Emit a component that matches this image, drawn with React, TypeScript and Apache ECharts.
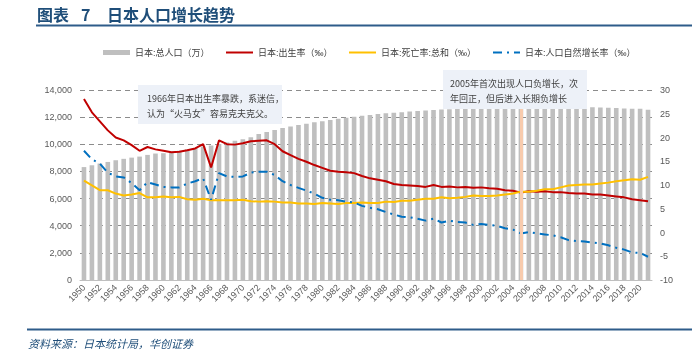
import React, { useEffect, useRef } from "react";
import * as echarts from "echarts";

const years: string[] = [];
for (let y = 1950; y <= 2021; y++) years.push(String(y));

const population = [
  8320, 8454, 8581, 8698, 8824, 8928, 9017, 9093, 9218, 9318,
  9342, 9429, 9518, 9616, 9718, 9828, 9904, 10020, 10133, 10254,
  10372, 10515, 10760, 10910, 11057, 11194, 11309, 11417, 11519, 11616,
  11706, 11790, 11873, 11954, 12031, 12105, 12166, 12224, 12278, 12326,
  12361, 12410, 12457, 12494, 12527, 12557, 12586, 12616, 12649, 12669,
  12693, 12732, 12749, 12769, 12779, 12777, 12790, 12803, 12808, 12803,
  12806, 12783, 12759, 12741, 12724, 12709, 12693, 12671, 12644, 12617,
  12615, 12550,
];

const birthRate = [
  28.1, 25.3, 23.4, 21.5, 20.0, 19.4, 18.4, 17.2, 18.0, 17.5,
  17.2, 16.9, 17.0, 17.3, 17.7, 18.6, 13.7, 19.4, 18.6, 18.5,
  18.8, 19.2, 19.3, 19.4, 18.6, 17.1, 16.3, 15.5, 14.9, 14.2,
  13.6, 13.0, 12.8, 12.7, 12.5, 11.9, 11.4, 11.1, 10.8, 10.2,
  10.0, 9.9, 9.8, 9.6, 10.0, 9.6, 9.7, 9.5, 9.6, 9.4,
  9.5, 9.3, 9.2, 8.9, 8.8, 8.4, 8.7, 8.6, 8.7, 8.5,
  8.5, 8.3, 8.2, 8.2, 8.0, 8.0, 7.8, 7.6, 7.4, 7.0,
  6.8, 6.6,
];

const deathRate = [
  10.9, 9.9, 8.9, 8.9, 8.2, 7.8, 8.0, 8.3, 7.4, 7.4,
  7.6, 7.4, 7.5, 7.0, 6.9, 7.1, 6.8, 6.8, 6.8, 6.8,
  6.9, 6.6, 6.5, 6.6, 6.5, 6.3, 6.3, 6.1, 6.1, 6.0,
  6.2, 6.1, 6.0, 6.2, 6.2, 6.3, 6.2, 6.2, 6.5, 6.4,
  6.7, 6.7, 6.9, 7.1, 7.1, 7.4, 7.2, 7.3, 7.5, 7.8,
  7.7, 7.7, 7.8, 8.0, 8.2, 8.6, 8.6, 8.8, 9.1, 9.1,
  9.5, 9.9, 10.0, 10.1, 10.1, 10.3, 10.5, 10.8, 11.0, 11.2,
  11.1, 11.7,
];

const naturalRate = [
  17.2, 15.4, 14.5, 12.6, 11.8, 11.6, 10.4, 8.9, 10.6, 10.1,
  9.6, 9.5, 9.5, 10.3, 10.8, 11.4, 6.9, 12.5, 11.8, 11.7,
  11.8, 12.6, 12.8, 12.8, 12.1, 10.8, 10.0, 9.4, 8.8, 8.2,
  7.3, 6.9, 6.8, 6.5, 6.3, 5.6, 5.2, 4.9, 4.3, 3.8,
  3.3, 3.2, 2.9, 2.5, 2.9, 2.1, 2.5, 2.2, 2.1, 1.6,
  1.8, 1.6, 1.4, 0.9, 0.6, -0.2, 0.1, -0.2, -0.4, -0.6,
  -1.0, -1.6, -1.8, -1.9, -2.1, -2.3, -2.7, -3.2, -3.6, -4.2,
  -4.3, -5.1,
];

const seriesNames = [
  "日本:总人口（万）",
  "日本:出生率（‰）",
  "日本:死亡率:总和（‰）",
  "日本:人口自然增长率（‰）",
];

const titleParts = ["图表", "7", "日本人口增长趋势"];
const note1966 = ["1966年日本出生率暴跌，系迷信，", "认为“火马女”容易克夫克父。"];
const note2005 = ["2005年首次出现人口负增长，次", "年回正，但后进入长期负增长"];
const sourceText = "资料来源：日本统计局，华创证券";
const markYear = "2005";

const FONT = '"Liberation Sans", Arial, "Noto Sans CJK SC", sans-serif';
const CJK_FONT = '"Noto Sans CJK SC", sans-serif';
const DARKBLUE = "#1F4E79";

export default function App() {
  const ref = useRef<HTMLDivElement>(null);
  useEffect(() => {
    if (!ref.current) return;
    const chart = echarts.init(ref.current, undefined, { renderer: "svg" });
    const noteText = (lines: string[], x: number, y: number) =>
      lines.map((t, i) => ({
        type: "text",
        z: 101,
        x,
        y: y + i * 15,
        style: {
          text: t,
          fontSize: 9,
          fontFamily: CJK_FONT,
          fill: "#404040",
          verticalAlign: "middle",
        },
      }));
    const legendLefts = [103, 225, 348, 492];
    const legends = seriesNames.map((name, i) => ({
      left: legendLefts[i],
      top: 48,
      padding: 0,
      itemWidth: 27,
      itemHeight: 5,
      itemGap: 5,
      textStyle: { fontSize: 9, color: "#404040", fontFamily: FONT },
      data: [
        i === 0
          ? { name, icon: "rect" }
          : { name, itemStyle: { opacity: 0 } },
      ],
    }));
    chart.setOption({
      animation: false,
      textStyle: { fontFamily: FONT },
      grid: { left: 80, right: 40, top: 90, bottom: 75 },
      legend: legends,
      xAxis: {
        type: "category",
        data: years,
        axisLine: { lineStyle: { color: "#BFBFBF" } },
        axisTick: { show: false },
        axisLabel: {
          interval: 1,
          rotate: 45,
          fontSize: 9,
          color: "#595959",
          margin: 6,
        },
      },
      yAxis: [
        {
          type: "value",
          min: 0,
          max: 14000,
          interval: 2000,
          axisLine: { show: false },
          axisTick: { show: false },
          axisLabel: {
            fontSize: 9,
            color: "#595959",
            formatter: (v: number) => v.toLocaleString("en-US"),
          },
          splitLine: {
            lineStyle: { color: "#8C8C8C", type: [5, 4], width: 1 },
          },
        },
        {
          type: "value",
          min: -10,
          max: 30,
          interval: 5,
          axisLine: { show: false },
          axisTick: { show: false },
          axisLabel: { fontSize: 9, color: "#595959" },
          splitLine: { show: false },
        },
      ],
      series: [
        {
          name: seriesNames[0],
          type: "bar",
          yAxisIndex: 0,
          data: population,
          barWidth: "58%",
          itemStyle: { color: "#BFBFBF" },
          markLine: {
            silent: true,
            symbol: "none",
            label: { show: false },
            lineStyle: { color: "#F8CBAD", width: 3, type: "solid" },
            data: [{ xAxis: markYear }],
          },
        },
        {
          name: seriesNames[1],
          type: "line",
          yAxisIndex: 1,
          data: birthRate,
          symbol: "none",
          lineStyle: { color: "#C00000", width: 2 },
          itemStyle: { color: "#C00000" },
        },
        {
          name: seriesNames[2],
          type: "line",
          yAxisIndex: 1,
          data: deathRate,
          symbol: "none",
          lineStyle: { color: "#FFC000", width: 2 },
          itemStyle: { color: "#FFC000" },
        },
        {
          name: seriesNames[3],
          type: "line",
          yAxisIndex: 1,
          data: naturalRate,
          symbol: "none",
          lineStyle: { color: "#0070C0", width: 2, type: [9, 5, 2, 5] },
          itemStyle: { color: "#0070C0" },
        },
      ],
      graphic: [
        {
          type: "text",
          z: 100,
          x: 37,
          y: 14,
          style: {
            text: titleParts[0],
            fontSize: 16,
            fontWeight: "bold",
            fontFamily: CJK_FONT,
            fill: DARKBLUE,
            verticalAlign: "middle",
          },
        },
        {
          type: "text",
          z: 100,
          x: 81,
          y: 14,
          style: {
            text: titleParts[1],
            fontSize: 16,
            fontWeight: "bold",
            fontFamily: CJK_FONT,
            fill: DARKBLUE,
            verticalAlign: "middle",
          },
        },
        {
          type: "text",
          z: 100,
          x: 107,
          y: 14,
          style: {
            text: titleParts[2],
            fontSize: 16,
            fontWeight: "bold",
            fontFamily: CJK_FONT,
            fill: DARKBLUE,
            verticalAlign: "middle",
          },
        },
        {
          type: "line",
          z: 100,
          shape: { x1: 36, y1: 25.5, x2: 692, y2: 25.5 },
          style: { stroke: "#2E5C8A", lineWidth: 2 },
        },
        {
          type: "line",
          z: 100,
          shape: { x1: 27, y1: 329.5, x2: 692, y2: 329.5 },
          style: { stroke: "#2E5C8A", lineWidth: 2 },
        },
        {
          type: "text",
          z: 100,
          x: 28,
          y: 343,
          style: {
            text: sourceText,
            fontSize: 11,
            fontStyle: "italic",
            fontFamily: CJK_FONT,
            fill: DARKBLUE,
            verticalAlign: "middle",
          },
        },
        {
          type: "rect",
          z: 100,
          shape: { x: 138, y: 85, width: 144, height: 39 },
          style: { fill: "#EDF1F8" },
        },
        ...noteText(note1966, 147, 98),
        {
          type: "rect",
          z: 100,
          shape: { x: 443, y: 70, width: 144, height: 39 },
          style: { fill: "#EDF1F8" },
        },
        ...noteText(note2005, 450, 83),
      ],
    });
    return () => chart.dispose();
  }, []);
  return (
    <div
      ref={ref}
      style={{ position: "fixed", left: 0, top: 0, width: 692, height: 355 }}
    />
  );
}
